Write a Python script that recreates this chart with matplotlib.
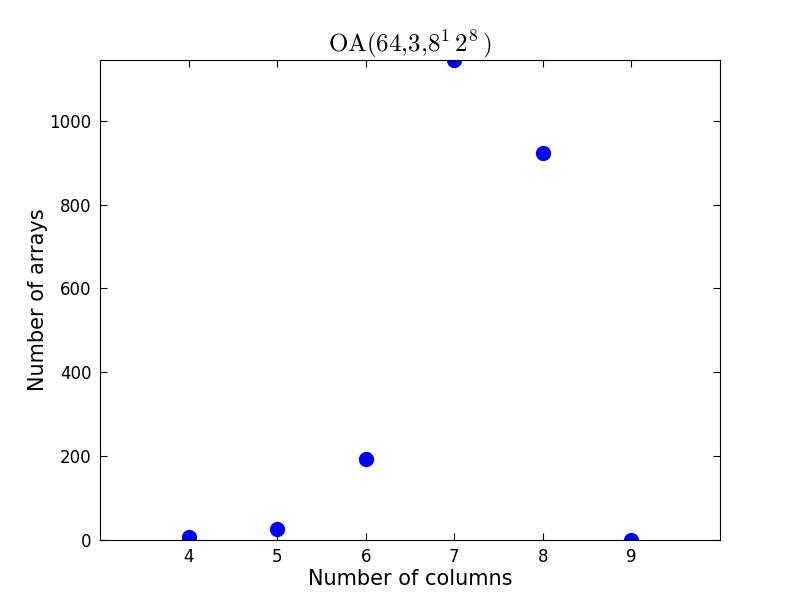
import matplotlib
matplotlib.use('Agg')
import matplotlib.pyplot as plt

# number of columns vs number of arrays
ncols = [4, 5, 6, 7, 8, 9]
narrays = [7, 26, 193, 1145, 923, 0]

plt.rcParams['mathtext.fontset'] = 'cm'

fig = plt.figure(figsize=(8, 6), dpi=100)
ax = fig.add_axes([0.125, 0.1, 0.775, 0.8])
ax.plot(ncols, narrays, '.', color='blue', markersize=22, markeredgewidth=0)
ax.set_xlim(3, 10)
ax.set_ylim(0, max(narrays))
ax.set_xticks(ncols)
ax.set_yticks([0, 200, 400, 600, 800, 1000])
ax.tick_params(direction='in', top=True, right=True, labelsize=12, length=5, pad=6)
ax.set_xlabel('Number of columns', fontsize=15, labelpad=2)
ax.set_ylabel('Number of arrays', fontsize=15, labelpad=1)
ax.set_title(r'$\mathrm{OA}(64{,}3{,}8^1\,2^8\,)$', fontsize=18)

plt.savefig('out.png', dpi=100)
